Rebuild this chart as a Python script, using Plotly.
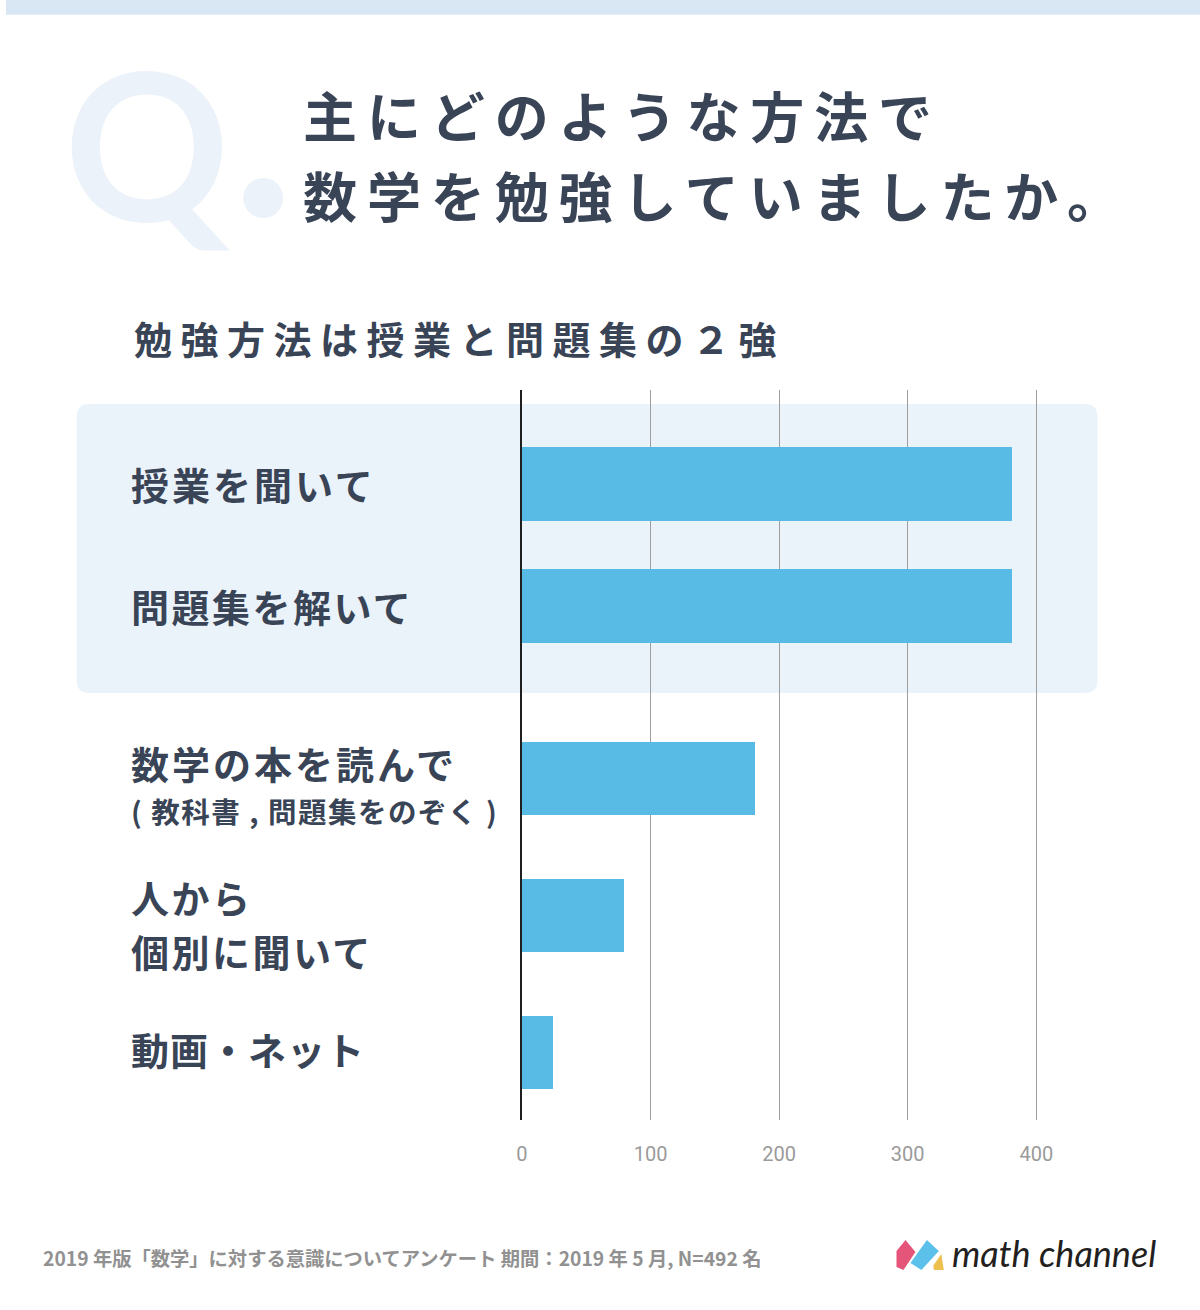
import plotly.graph_objects as go

# ---------------- data ----------------
categories_top = ["授業を聞いて", "問題集を解いて"]
values_top = [381, 381]
categories_bottom = ["数学の本を読んで", "人から個別に聞いて", "動画・ネット"]
values_bottom = [181, 79, 24]
tick_vals = [0, 100, 200, 300, 400]
tick_text = ["0", "100", "200", "300", "400"]

title_lines = ["主にどのような方法で", "数学を勉強していましたか。"]
subtitle = "勉強方法は授業と問題集の２強"
footer = "2019 年版「数学」に対する意識についてアンケート 期間：2019 年 5 月, N=492 名"
logo_text = "math channel"

# ---------------- styling ----------------
W, H = 1200, 1310
TXT = "#394456"
BAR = "#58BBE6"
GRID = "#9E9E9E"
CJK = "Noto Sans CJK JP"


def px(x):
    return x / W


def py(y):
    return 1 - y / H


def spaced(t, ls):
    return f'<span style="letter-spacing:{ls}px">{t}</span>'


fig = go.Figure()
fig.add_trace(go.Bar(x=values_top, y=categories_top, orientation="h",
                     xaxis="x", yaxis="y", width=0.605,
                     marker=dict(color=BAR, line=dict(width=0)),
                     hoverinfo="skip", showlegend=False))
fig.add_trace(go.Bar(x=values_bottom, y=categories_bottom, orientation="h",
                     xaxis="x2", yaxis="y2", width=0.533,
                     marker=dict(color=BAR, line=dict(width=0)),
                     hoverinfo="skip", showlegend=False))

X0 = 518.5
xmax = (1100 - X0) / 1.2925
xcommon = dict(domain=[px(X0), px(1100)], range=[0, xmax], tickvals=tick_vals,
               showgrid=True, gridcolor=GRID, gridwidth=1, zeroline=False,
               showline=False, ticks="", fixedrange=True)
ycommon = dict(type="category", showticklabels=False, showgrid=False,
               zeroline=False, showline=True, linecolor="#1f1f1f", linewidth=1.5,
               ticks="", fixedrange=True)

fig.update_layout(
    width=W, height=H, autosize=False,
    margin=dict(l=0, r=0, t=0, b=0, pad=0),
    paper_bgcolor="white", plot_bgcolor="rgba(0,0,0,0)",
    font=dict(family=CJK, color=TXT),
    bargap=0,
    xaxis=dict(anchor="y", showticklabels=False, **xcommon),
    yaxis=dict(anchor="x", domain=[py(700), py(390)],
               categoryorder="array", categoryarray=categories_top,
               range=[1.769, -0.766], **ycommon),
    xaxis2=dict(anchor="y2", showticklabels=True, ticktext=tick_text,
                tickfont=dict(family="Roboto", size=20, color="#9A9A9A"),
                ticklabelstandoff=20, **xcommon),
    yaxis2=dict(anchor="x2", domain=[py(1120), py(700)],
                categoryorder="array", categoryarray=categories_bottom,
                range=[2.493, -0.573], **ycommon),
)

# ---------------- shapes ----------------
shapes = []
# top band
shapes.append(dict(type="rect", xref="paper", yref="paper", x0=0, x1=1,
                   y0=py(14.7), y1=1, fillcolor="#D8E7F3", line=dict(width=0),
                   layer="below"))


def rounded(x0, y0, x1, y1, r):
    A0, A1 = px(x0), px(x1)
    B0, B1 = py(y0), py(y1)
    rx, ry = r / W, r / H
    return (f"M {A0+rx},{B0} L {A1-rx},{B0} Q {A1},{B0} {A1},{B0-ry} "
            f"L {A1},{B1+ry} Q {A1},{B1} {A1-rx},{B1} "
            f"L {A0+rx},{B1} Q {A0},{B1} {A0},{B1+ry} "
            f"L {A0},{B0-ry} Q {A0},{B0} {A0+rx},{B0} Z")


shapes.append(dict(type="path", xref="paper", yref="paper",
                   path=rounded(71, 404, 1097, 693, 13),
                   fillcolor="#EBF3FA", line=dict(width=0), layer="below"))
# Q dot
shapes.append(dict(type="circle", xref="paper", yref="paper",
                   x0=px(238.5), x1=px(278.5), y0=py(218), y1=py(178),
                   fillcolor="#ECF2F9", line=dict(width=0), layer="below"))


# logo icon
def poly(pts):
    return "M " + " L ".join(f"{px(a)},{py(b)}" for a, b in pts) + " Z"


shapes.append(dict(type="path", xref="paper", yref="paper",
                   path=poly([(895, 1267), (895, 1251), (904, 1240), (914, 1252), (902, 1270)]),
                   fillcolor="#E5557A", line=dict(width=0)))
shapes.append(dict(type="path", xref="paper", yref="paper",
                   path=poly([(909, 1263), (925.5, 1240), (937.5, 1251), (920, 1270)]),
                   fillcolor="#5BC1EA", line=dict(width=0)))
shapes.append(dict(type="path", xref="paper", yref="paper",
                   path=poly([(932, 1265.5), (940, 1254), (942.5, 1270), (932.5, 1270)]),
                   fillcolor="#EDC04F", line=dict(width=0)))
fig.update_layout(shapes=shapes)

# ---------------- annotations ----------------
ann = []
# Q watermark
ann.append(dict(text="<b>Q</b>", xref="paper", yref="paper", x=px(56), y=py(142),
                xanchor="left", yanchor="middle", showarrow=False,
                font=dict(family="Lato", size=205, color="#ECF2F9")))
# titles
ann.append(dict(text=spaced(title_lines[0], 9.9), xref="paper", yref="paper",
                x=px(296), y=py(115), xanchor="left", yanchor="middle",
                showarrow=False, font=dict(size=54, color=TXT, weight="bold")))
ann.append(dict(text=spaced(title_lines[1], 9.9), xref="paper", yref="paper",
                x=px(296), y=py(195), xanchor="left", yanchor="middle",
                showarrow=False, font=dict(size=54, color=TXT, weight="bold")))
ann.append(dict(text=spaced(subtitle, 8.5), xref="paper", yref="paper",
                x=px(127), y=py(338), xanchor="left", yanchor="middle",
                showarrow=False, font=dict(size=38, color=TXT, weight="bold")))

# category labels: (text, yref, category, yshift, size, spacing)
labels = [
    ("授業を聞いて", "y", categories_top[0], 0, 38, 3),
    ("問題集を解いて", "y", categories_top[1], 0, 38, 2.5),
    ("数学の本を読んで", "y2", categories_bottom[0], 16, 38, 3),
    ("( 教科書 , 問題集をのぞく )", "y2", categories_bottom[0], -32, 28.5, 1.5),
    ("人から", "y2", categories_bottom[1], 19, 38, 2.5),
    ("個別に聞いて", "y2", categories_bottom[1], -35, 38, 2.5),
    ("動画・ネット", "y2", categories_bottom[2], 4, 38, 1),
]
for t, yr, cat, ys, fs, ls in labels:
    ann.append(dict(text=spaced(t, ls), xref="paper", yref=yr, x=px(124), y=cat,
                    yshift=ys, xanchor="left", yanchor="middle", showarrow=False,
                    font=dict(size=fs, color=TXT, weight="bold")))

# footer
ann.append(dict(text=footer, xref="paper", yref="paper", x=px(35), y=py(1258),
                xanchor="left", yanchor="middle", showarrow=False,
                font=dict(size=19.3, color="#919191", weight="bold")))
ann.append(dict(text=f"<i>{logo_text}</i>", xref="paper", yref="paper",
                x=px(949), y=py(1253), xanchor="left", yanchor="middle",
                showarrow=False,
                font=dict(family="Lato", size=36, color="#231F20")))
fig.update_layout(annotations=ann)

fig.write_html("out.html")
